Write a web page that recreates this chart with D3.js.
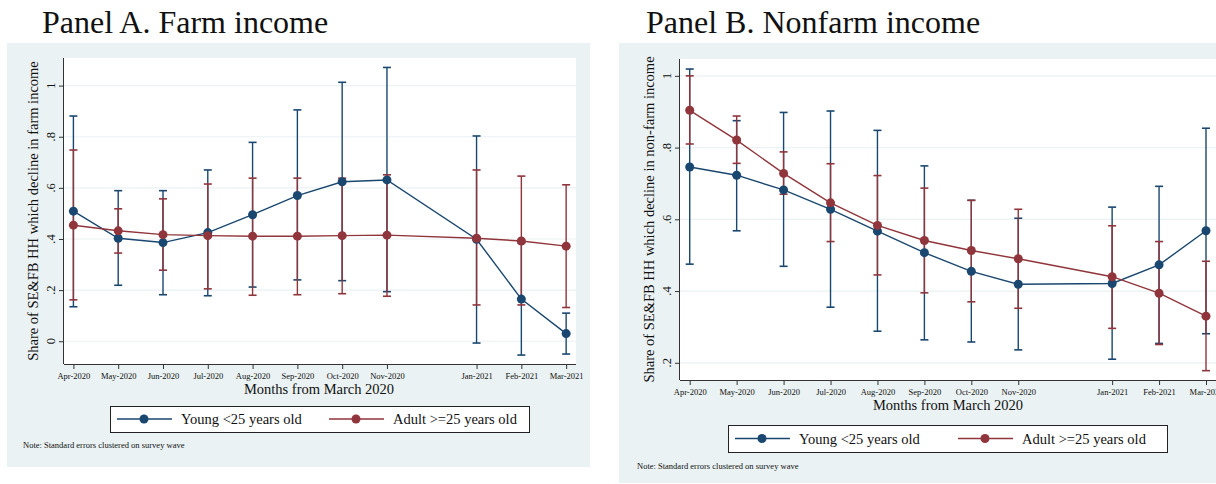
<!DOCTYPE html>
<html>
<head>
<meta charset="utf-8">
<script src="https://cdn.jsdelivr.net/npm/d3@7"></script>
<style>
  body { margin: 0; background: #fff; }
  svg text { font-family: "Liberation Serif", "Times New Roman", serif; fill: #111; }
</style>
</head>
<body>
<svg id="chart" width="1216" height="484"></svg>
<script>
// months from March 2020 (Dec-2020 is missing)
const monthIdx = [1, 2, 3, 4, 5, 6, 7, 8, 10, 11, 12];
const monthLabels = ["Apr-2020", "May-2020", "Jun-2020", "Jul-2020", "Aug-2020", "Sep-2020",
  "Oct-2020", "Nov-2020", "Jan-2021", "Feb-2021", "Mar-2021"];

// Panel A: farm income
const farmYoung   = [0.509, 0.403, 0.386, 0.425, 0.495, 0.570, 0.624, 0.631, 0.399, 0.165, 0.030];
const farmYoungHi = [0.881, 0.589, 0.589, 0.670, 0.778, 0.905, 1.013, 1.071, 0.803, 0.384, 0.110];
const farmYoungLo = [0.135, 0.219, 0.182, 0.178, 0.212, 0.240, 0.237, 0.194, -0.007, -0.054, -0.050];
const farmAdult   = [0.454, 0.432, 0.417, 0.413, 0.411, 0.411, 0.413, 0.415, 0.403, 0.392, 0.372];
const farmAdultHi = [0.748, 0.518, 0.557, 0.615, 0.638, 0.638, 0.638, 0.651, 0.670, 0.646, 0.612];
const farmAdultLo = [0.162, 0.345, 0.278, 0.205, 0.180, 0.182, 0.186, 0.176, 0.142, 0.142, 0.132];

// Panel B: nonfarm income
const nonfarmYoung   = [0.746, 0.723, 0.682, 0.628, 0.567, 0.507, 0.455, 0.419, 0.421, 0.473, 0.568];
const nonfarmYoungHi = [1.019, 0.875, 0.898, 0.902, 0.848, 0.749, 0.653, 0.603, 0.634, 0.692, 0.854];
const nonfarmYoungLo = [0.475, 0.568, 0.469, 0.355, 0.288, 0.264, 0.258, 0.236, 0.210, 0.254, 0.281];
const nonfarmAdult   = [0.904, 0.821, 0.728, 0.646, 0.583, 0.541, 0.513, 0.490, 0.440, 0.394, 0.330];
const nonfarmAdultHi = [1.000, 0.888, 0.788, 0.755, 0.722, 0.687, 0.653, 0.628, 0.582, 0.538, 0.483];
const nonfarmAdultLo = [0.810, 0.756, 0.670, 0.538, 0.445, 0.395, 0.370, 0.352, 0.296, 0.251, 0.178];

const yTicks = [0, 0.2, 0.4, 0.6, 0.8, 1];
const seriesNames = ["Young <25 years old", "Adult >=25 years old"];

const NAVY = "#1a476f";
const MAROON = "#90353b";
const BG = "#eaf2f3";

const svg = d3.select("#chart");

function fmtTick(v) {
  if (v === 0) return "0";
  if (v === 1) return "1";
  return d3.format(".1f")(v).replace(/^0/, "");
}

// draws one Stata-like panel
function drawPanel(p) {
  const g = svg.append("g");

  g.append("text")
    .attr("x", p.titleX).attr("y", 33)
    .style("font-size", "32px")
    .text(p.title);

  // graph region
  g.append("rect")
    .attr("x", p.bg[0]).attr("y", p.bg[1])
    .attr("width", p.bg[2]).attr("height", p.bg[3])
    .attr("fill", BG);

  // plot region
  g.append("rect")
    .attr("x", p.left).attr("y", p.top)
    .attr("width", p.right - p.left).attr("height", p.bottom - p.top)
    .attr("fill", "#fff");

  const x = d3.scaleLinear().domain(p.xDomain).range([p.left, p.right]);
  const y = d3.scaleLinear().domain(p.yDomain).range([p.bottom, p.top]);

  const ticks = yTicks.filter(t => t >= p.yDomain[0] && t <= p.yDomain[1]);

  // gridlines
  g.selectAll(".grid")
    .data(ticks)
    .enter().append("line")
    .attr("x1", p.left).attr("x2", p.right)
    .attr("y1", d => y(d)).attr("y2", d => y(d))
    .attr("stroke", BG).attr("stroke-width", 1.2);

  // y axis
  const yAxis = g.append("g")
    .attr("transform", `translate(${p.left},0)`)
    .call(d3.axisLeft(y).tickValues(ticks).tickSize(5).tickFormat(""));
  yAxis.select(".domain").attr("d", `M-0.5,${p.top}V${p.bottom}`).attr("stroke", "#333");
  yAxis.selectAll(".tick line").attr("stroke", "#333");

  g.selectAll(".ylab")
    .data(ticks)
    .enter().append("text")
    .attr("transform", d => `translate(${p.left - 9},${y(d)}) rotate(-90)`)
    .attr("text-anchor", "middle")
    .style("font-size", "12.5px")
    .text(fmtTick);

  g.append("text")
    .attr("transform", `translate(${p.left - 26},${(p.top + p.bottom) / 2}) rotate(-90)`)
    .attr("text-anchor", "middle")
    .style("font-size", "14.5px")
    .text(p.yTitle);

  // x axis
  const xAxis = g.append("g")
    .attr("transform", `translate(0,${p.bottom})`)
    .call(d3.axisBottom(x).tickValues(monthIdx).tickSize(5)
      .tickFormat((d, i) => monthLabels[i]));
  xAxis.select(".domain").attr("d", `M${p.left},0.5H${p.right}`).attr("stroke", "#333");
  xAxis.selectAll(".tick line").attr("stroke", "#333");
  xAxis.selectAll(".tick text")
    .attr("y", 12)
    .attr("dy", "0.35em")
    .style("font-family", "'Liberation Serif', serif")
    .style("font-size", "8.5px")
    .attr("fill", "#111");

  g.append("text")
    .attr("x", p.xTitleX).attr("y", p.bottom + 30)
    .attr("text-anchor", "middle")
    .style("font-size", "14.5px")
    .text("Months from March 2020");

  const series = [
    { name: seriesNames[0], color: NAVY, est: p.young, lo: p.youngLo, hi: p.youngHi },
    { name: seriesNames[1], color: MAROON, est: p.adult, lo: p.adultLo, hi: p.adultHi }
  ];

  // confidence intervals
  series.forEach(s => {
    const cg = g.append("g").attr("stroke", s.color).attr("stroke-width", 1.4).attr("fill", "none");
    monthIdx.forEach((m, i) => {
      cg.append("line")
        .attr("x1", x(m)).attr("x2", x(m))
        .attr("y1", y(s.lo[i])).attr("y2", y(s.hi[i]));
      [s.lo[i], s.hi[i]].forEach(v => {
        cg.append("line")
          .attr("x1", x(m) - 4).attr("x2", x(m) + 4)
          .attr("y1", y(v)).attr("y2", y(v))
          .attr("stroke-width", 1.6);
      });
    });
  });

  // connected point estimates
  const line = d3.line().x(d => x(d[0])).y(d => y(d[1]));
  series.forEach(s => {
    const pts = monthIdx.map((m, i) => [m, s.est[i]]);
    g.append("path")
      .datum(pts)
      .attr("d", line)
      .attr("fill", "none")
      .attr("stroke", s.color)
      .attr("stroke-width", 1.4);
    g.selectAll(null)
      .data(pts)
      .enter().append("circle")
      .attr("cx", d => x(d[0])).attr("cy", d => y(d[1]))
      .attr("r", 4.5)
      .attr("fill", s.color);
  });

  // legend
  const lg = g.append("g");
  lg.append("rect")
    .attr("x", p.legend[0] + 0.5).attr("y", p.legend[1] + 0.5)
    .attr("width", p.legend[2]).attr("height", p.legend[3])
    .attr("fill", "#fff").attr("stroke", "#222").attr("stroke-width", 1);
  const cy = p.legend[1] + p.legend[3] / 2;
  series.forEach((s, i) => {
    const lx = p.legendItems[i];
    lg.append("line")
      .attr("x1", lx).attr("x2", lx + 55)
      .attr("y1", cy).attr("y2", cy)
      .attr("stroke", s.color).attr("stroke-width", 1.4);
    lg.append("circle")
      .attr("cx", lx + 27).attr("cy", cy).attr("r", 4.5)
      .attr("fill", s.color);
    lg.append("text")
      .attr("x", lx + 64).attr("y", cy + 5)
      .style("font-size", "14.5px")
      .text(s.name);
  });

  g.append("text")
    .attr("x", p.noteX).attr("y", p.noteY)
    .style("font-size", "8.5px")
    .text("Note: Standard errors clustered on survey wave");
}

drawPanel({
  title: "Panel A. Farm income",
  titleX: 42,
  bg: [7, 43, 583, 424],
  left: 64, right: 576, top: 58, bottom: 364,
  xDomain: [0.79, 12.22],
  yDomain: [-0.089, 1.108],
  yTitle: "Share of SE&FB HH which decline in farm income",
  xTitleX: 319,
  young: farmYoung, youngLo: farmYoungLo, youngHi: farmYoungHi,
  adult: farmAdult, adultLo: farmAdultLo, adultHi: farmAdultHi,
  legend: [110, 406, 419, 26],
  legendItems: [117, 329],
  noteX: 23, noteY: 448
});

drawPanel({
  title: "Panel B. Nonfarm income",
  titleX: 646,
  bg: [619, 43, 597, 440],
  left: 680, right: 1216, top: 59, bottom: 380,
  xDomain: [0.793, 12.213],
  yDomain: [0.152, 1.047],
  yTitle: "Share of SE&FB HH which decline in non-farm income",
  xTitleX: 948,
  young: nonfarmYoung, youngLo: nonfarmYoungLo, youngHi: nonfarmYoungHi,
  adult: nonfarmAdult, adultLo: nonfarmAdultLo, adultHi: nonfarmAdultHi,
  legend: [728, 425, 439, 27],
  legendItems: [735, 958],
  noteX: 637, noteY: 469
});
</script>
</body>
</html>
